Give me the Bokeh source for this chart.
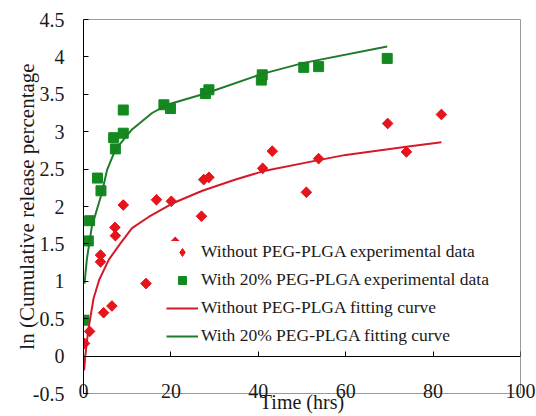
import math
from bokeh.plotting import figure
from bokeh.models import LinearAxis, FixedTicker, Legend, LegendItem
from bokeh.embed import file_html
from bokeh.resources import INLINE

# ---- data ----
red_x = [0.23, 1.4, 3.9, 3.9, 4.6, 6.5, 7.2, 7.3, 9.1, 14.3, 16.7, 20.1, 21.0,
         27.0, 27.5, 28.7, 41.0, 43.2, 51.0, 53.8, 69.6, 73.9, 81.9]
red_y = [0.17, 0.33, 1.35, 1.26, 0.58, 0.67, 1.72, 1.61, 2.02, 0.97, 2.09, 2.07, 1.52,
         1.87, 2.36, 2.39, 2.51, 2.74, 2.19, 2.64, 3.11, 2.73, 3.23]

green_x = [0.1, 1.1, 1.4, 3.2, 4.0, 6.9, 7.3, 9.1, 9.1, 18.4, 19.9, 27.9, 28.7,
           40.7, 40.9, 50.4, 53.8, 69.5]
green_y = [0.48, 1.54, 1.81, 2.38, 2.21, 2.92, 2.77, 2.98, 3.29, 3.36, 3.31, 3.51, 3.56,
           3.69, 3.76, 3.86, 3.87, 3.98]

red_fit_x = [0.15, 0.4, 1.1, 2.3, 3.6, 5.8, 8.5, 11.1, 14.9, 20.3, 27.2, 34.8, 41.0,
             53.8, 60.0, 73.9, 81.9]
red_fit_y = [-0.19, 0.0, 0.35, 0.77, 1.02, 1.29, 1.51, 1.71, 1.86, 2.04, 2.21, 2.36, 2.47,
             2.62, 2.69, 2.80, 2.86]

green_fit_x = [0.23, 0.76, 1.9, 4.2, 5.4, 7.3, 11.1, 15.7, 19.1, 27.9, 40.7, 50.4, 69.5]
green_fit_y = [0.97, 1.29, 1.73, 2.18, 2.49, 2.76, 3.03, 3.25, 3.36, 3.51, 3.77, 3.92, 4.14]

x_ticks = [0, 20, 40, 60, 80, 100]
x_tick_labels = ["0", "20", "40", "60", "80", "100"]
y_ticks = [-0.5, 0, 0.5, 1, 1.5, 2, 2.5, 3, 3.5, 4, 4.5]
y_tick_labels = ["-0.5", "0", "0.5", "1", "1.5", "2", "2.5", "3", "3.5", "4", "4.5"]

legend_labels = ["Without PEG-PLGA experimental data",
                 "With 20% PEG-PLGA experimental data",
                 "Without PEG-PLGA fitting curve",
                 "With 20% PEG-PLGA fitting curve"]

RED = "#e8141b"
GREEN = "#128a1f"
RED_LINE = "#d41a28"
GREEN_LINE = "#1f7a2a"
FONT = "Liberation Serif"
TXT = "#1a1a1a"

p = figure(width=536, height=416, output_backend="svg", toolbar_location=None,
           x_range=(0, 100), y_range=(-0.5, 4.5),
           min_border_left=83, min_border_right=16, min_border_top=19, min_border_bottom=23)
p.grid.visible = False
p.outline_line_color = "#9a9a9a"
p.outline_line_width = 1
p.background_fill_color = "white"
p.border_fill_color = "white"

# y axis
ya = p.yaxis[0]
ya.ticker = FixedTicker(ticks=y_ticks)
ya.major_label_overrides = dict(zip(y_ticks, y_tick_labels))
ya.axis_line_color = "black"
ya.major_tick_in = 5
ya.major_tick_out = 0
ya.minor_tick_line_color = None
ya.major_tick_line_color = "black"
ya.major_label_standoff = 19
ya.major_label_text_font = FONT
ya.major_label_text_font_size = "20px"
ya.major_label_text_color = TXT
ya.axis_label = "ln (Cumulative release percentage"
ya.axis_label_text_font = FONT
ya.axis_label_text_font_style = "normal"
ya.axis_label_text_font_size = "21px"
ya.axis_label_text_color = TXT
ya.axis_label_standoff = -9

# bottom axis: tick labels and title only
xa = p.xaxis[0]
xa.ticker = FixedTicker(ticks=x_ticks)
xa.major_label_overrides = dict(zip(x_ticks, x_tick_labels))
xa.axis_line_color = None
xa.major_tick_line_color = None
xa.minor_tick_line_color = None
xa.major_tick_in = 0
xa.major_tick_out = 0
xa.major_label_standoff = -10
xa.major_label_text_font = FONT
xa.major_label_text_font_size = "20px"
xa.major_label_text_color = TXT
xa.axis_label = "Time (hrs)"
xa.axis_label_text_font = FONT
xa.axis_label_text_font_style = "normal"
xa.axis_label_text_font_size = "20px"
xa.axis_label_text_color = TXT
xa.axis_label_standoff = -10

# x axis line at y = 0 with inward ticks (no labels drawn)
x0 = LinearAxis(fixed_location=0, ticker=FixedTicker(ticks=x_ticks))
x0.axis_line_color = "black"
x0.major_tick_line_color = "black"
x0.major_tick_in = 5
x0.major_tick_out = 0
x0.minor_tick_line_color = None
x0.major_label_text_color = None
x0.major_label_text_font_size = "1px"
x0.major_label_standoff = 0
p.add_layout(x0, "below")

# legend swatches, drawn underneath (and hidden by) the data markers
r_key = p.scatter(red_x, red_y, marker="diamond", size=10, fill_color=RED, line_color=RED)
g_key = p.scatter(green_x, green_y, marker="square", size=8, fill_color=GREEN, line_color=GREEN)

r_pts = p.scatter(red_x, red_y, marker="square", angle=math.pi / 4, size=7.5,
                  fill_color=RED, line_color=RED)
g_pts = p.scatter(green_x, green_y, marker="square", size=10,
                  fill_color=GREEN, line_color=GREEN)
r_fit = p.line(red_fit_x, red_fit_y, line_color=RED_LINE, line_width=2)
g_fit = p.line(green_fit_x, green_fit_y, line_color=GREEN_LINE, line_width=2)

legend = Legend(items=[LegendItem(label=legend_labels[0], renderers=[r_key]),
                       LegendItem(label=legend_labels[1], renderers=[g_key]),
                       LegendItem(label=legend_labels[2], renderers=[r_fit]),
                       LegendItem(label=legend_labels[3], renderers=[g_fit])],
                location=(83, 47))
legend.border_line_color = None
legend.background_fill_color = "white"
legend.background_fill_alpha = 1.0
legend.padding = 4
legend.margin = 0
legend.spacing = 7
legend.glyph_width = 32
legend.glyph_height = 20
legend.label_height = 20
legend.label_standoff = 3
legend.label_text_font = FONT
legend.label_text_font_size = "17.5px"
legend.label_text_color = TXT
p.add_layout(legend, "center")

open("out.html", "w").write(file_html(p, INLINE))
